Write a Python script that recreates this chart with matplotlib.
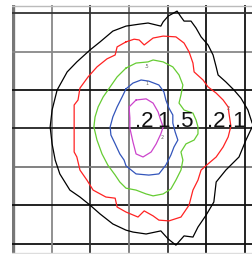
import matplotlib
matplotlib.use("Agg")
import matplotlib.pyplot as plt

# contour lines, in grid units (one grid cell = 1)
black_x = [6.25, 6.18, 6.07, 5.89, 5.71, 5.50, 5.30, 5.25, 5.17, 5.04, 4.86, 4.73, 4.60, 4.42, 4.34, 4.24,
           4.01, 3.88, 3.82, 3.49, 3.26, 2.92, 2.58, 2.25, 1.99, 1.65, 1.40, 1.14, 1.01, 0.96, 1.01, 1.09,
           1.21, 1.47, 1.73, 1.99, 2.25, 2.58, 2.92, 3.10, 3.44, 3.82, 4.01, 4.21, 4.42, 4.65, 4.78, 4.99,
           5.19, 5.25, 5.50, 5.84, 6.02, 6.18, 6.25]
black_y = [3.20, 3.14, 3.48, 3.79, 4.00, 4.21, 4.39, 4.60, 4.91, 5.17, 5.38, 5.61, 5.79, 5.79, 5.90, 6.05,
           5.92, 5.77, 5.66, 5.74, 5.71, 5.66, 5.53, 5.25, 5.04, 4.73, 4.47, 4.00, 3.48, 3.04, 2.60, 2.18,
           1.82, 1.40, 1.22, 1.01, 0.78, 0.52, 0.36, 0.31, 0.26, 0.34, 0.13, -0.03, 0.21, 0.18, 0.44, 0.75,
           1.09, 1.61, 1.92, 2.26, 2.70, 3.04, 3.00]

red_x = [2.92, 2.69, 2.64, 2.43, 2.17, 1.94, 1.73, 1.68, 1.58, 1.58, 1.58, 1.65, 1.73, 1.91, 2.07, 2.40,
         2.64, 2.69, 2.92, 3.23, 3.39, 3.62, 3.77, 4.03, 4.34, 4.55, 4.65, 4.78, 4.86, 5.04, 5.25, 5.43,
         5.56, 5.63, 5.58, 5.56, 5.43, 5.25, 5.04, 4.91, 4.68, 4.65, 4.55, 4.42, 4.21, 3.88, 3.62, 3.39,
         3.26, 3.13, 2.92]
red_y = [5.25, 5.12, 4.91, 4.81, 4.60, 4.34, 4.05, 3.74, 3.61, 3.04, 2.39, 2.26, 1.92, 1.66, 1.40, 1.22,
         1.19, 0.96, 0.83, 0.70, 0.86, 0.73, 0.62, 0.60, 0.70, 1.01, 1.40, 1.66, 1.92, 2.08, 2.26, 2.52,
         2.78, 3.06, 3.40, 3.56, 3.74, 3.92, 4.08, 4.26, 4.47, 4.70, 4.99, 5.22, 5.38, 5.40, 5.35, 5.17,
         5.30, 5.32, 5.25]

green_x = [2.92, 2.69, 2.51, 2.33, 2.20, 2.12, 2.09, 2.17, 2.30, 2.45, 2.64, 2.76, 2.92, 3.18, 3.44, 3.62,
           3.88, 4.08, 4.21, 4.34, 4.39, 4.34, 4.47, 4.68, 4.78, 4.78, 4.73, 4.65, 4.42, 4.29, 4.34, 4.39,
           4.29, 4.13, 3.88, 3.62, 3.49, 3.18, 2.92]
green_y = [4.57, 4.34, 4.08, 3.82, 3.56, 3.30, 3.04, 2.70, 2.34, 2.05, 1.79, 1.61, 1.45, 1.40, 1.30, 1.25,
           1.30, 1.43, 1.66, 1.92, 2.18, 2.39, 2.60, 2.70, 2.86, 3.04, 3.22, 3.40, 3.48, 3.66, 3.87, 4.13,
           4.39, 4.60, 4.73, 4.78, 4.73, 4.70, 4.57]

blue_x = [2.92, 2.82, 2.69, 2.58, 2.51, 2.53, 2.64, 2.76, 2.87, 2.92, 3.18, 3.51, 3.77, 3.95, 4.08, 4.16,
          4.26, 4.19, 4.13, 4.13, 4.03, 3.95, 3.90, 3.77, 3.51, 3.31, 3.10, 2.92]
blue_y = [4.03, 3.82, 3.56, 3.30, 3.04, 2.83, 2.60, 2.34, 2.18, 2.03, 1.82, 1.79, 1.82, 2.05, 2.31, 2.52,
          2.70, 2.91, 3.14, 3.35, 3.53, 3.74, 3.95, 4.13, 4.23, 4.26, 4.18, 4.03]

magenta_x = [3.18, 3.00, 3.02, 3.02, 3.10, 3.18, 3.36, 3.57, 3.70, 3.82, 3.88, 3.80, 3.75, 3.62, 3.44, 3.18]
magenta_y = [3.74, 3.56, 3.27, 3.01, 2.65, 2.34, 2.26, 2.39, 2.60, 2.86, 3.04, 3.27, 3.43, 3.66, 3.77, 3.74]

# level labels along the row just above the middle grid line
label_text = [".2", "1", ".5", ".2", ".1"]
label_x = [3.40, 3.90, 4.42, 5.24, 5.76]
label_y = 3.04

# tiny labels sitting on the contour lines
small_text = [".5", "1", "2", "2"]
small_x = [3.46, 3.46, 5.56, 3.86]
small_y = [4.60, 4.18, 3.53, 2.76]

fig = plt.figure(figsize=(2.52, 2.54), dpi=100)
ax = fig.add_axes([12 / 252, 0, 240 / 252, 249 / 254])
ax.set_xlim(-0.026, 6.176)
ax.set_ylim(-0.26, 6.208)
ax.axis("off")

# grid lines, some grey some black like in the original
vcols = ["#777777", "#888888", "#333333", "#777777", "#333333", "#111111", "#111111"]
hcols = ["#111111", "#111111", "#777777", "#222222", "#111111", "#888888", "#333333"]
for i in range(7):
    ax.axvline(i, color=vcols[i], lw=2.4 if i == 0 else 1.3, zorder=1)
    ax.axhline(i, color=hcols[i], lw=1.3, zorder=1)
ax.axhline(6.18, color="#bbbbbb", lw=1.0, zorder=1)
ax.axhline(-0.23, color="#dddddd", lw=1.0, zorder=1)

ax.plot(black_x, black_y, color="black", lw=0.9, zorder=3)
ax.plot(red_x, red_y, color="#ff2222", lw=0.9, zorder=3)
ax.plot(green_x, green_y, color="#66cc33", lw=0.9, zorder=3)
ax.plot(blue_x, blue_y, color="#3355bb", lw=0.9, zorder=3)
ax.plot(magenta_x, magenta_y, color="#cc44cc", lw=0.9, zorder=3)

for t, x in zip(label_text, label_x):
    ax.text(x, label_y, t, fontsize=16, family="Liberation Sans", ha="center", va="baseline",
            color="#111111", zorder=4)
for t, x, y in zip(small_text, small_x, small_y):
    ax.text(x, y, t, fontsize=3.5, ha="center", va="center", color="#666666", zorder=4)

fig.savefig("out.png", dpi=100)
